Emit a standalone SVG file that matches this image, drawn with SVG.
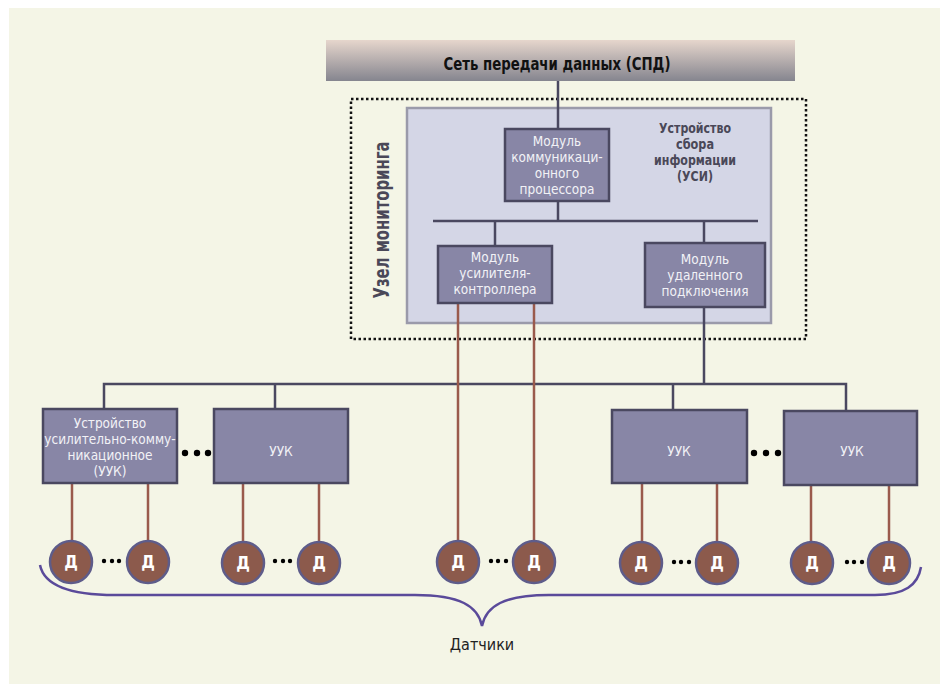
<svg xmlns="http://www.w3.org/2000/svg" width="943" height="687" viewBox="0 0 943 687">
<defs>
<linearGradient id="spdGrad" x1="0" y1="0" x2="0" y2="1">
<stop offset="0" stop-color="#e6d6cc"/>
<stop offset="1" stop-color="#85858f"/>
</linearGradient>
<style>
.t{font-family:"DejaVu Sans Condensed","DejaVu Sans",sans-serif;font-stretch:condensed;}
.box{fill:#8886a6;stroke:#4a4860;stroke-width:2.5;}
.wt{fill:#f2f2f6;font-size:13.5px;text-anchor:middle;}
.bd{fill:#4a4858;font-weight:bold;text-anchor:middle;}
.bus{fill:none;stroke:#4a4860;stroke-width:2.5;}
.br{fill:none;stroke:#9a5a4c;stroke-width:2.5;}
.sen{fill:#8c5a4c;stroke:#5e5c8a;stroke-width:2.5;}
.st{fill:#ffffff;font-size:17px;font-weight:bold;text-anchor:middle;}
.dot{fill:#000;}
</style>
</defs>
<rect width="943" height="687" fill="#ffffff"/>
<rect x="9" y="8" width="931" height="676" fill="#f4f5e6"/>

<g id="spd">
<rect x="326" y="40" width="469" height="41" fill="url(#spdGrad)"/>
<text class="t" x="557" y="70" font-size="18" font-weight="bold" fill="#111" text-anchor="middle" textLength="227" lengthAdjust="spacingAndGlyphs">Сеть передачи данных (СПД)</text>
</g>

<g id="monitoring-node">
<rect x="351" y="99" width="455" height="240" fill="none" stroke="#111" stroke-width="2.5" stroke-dasharray="2.5 2.5"/>
<text class="t bd" transform="translate(389,220) rotate(-90)" font-size="21" textLength="157" lengthAdjust="spacingAndGlyphs">Узел мониторинга</text>
</g>

<g id="usi">
<rect x="407" y="108" width="364" height="215" fill="#d4d6e6" stroke="#9a9aaa" stroke-width="2.5"/>
<text class="t bd" font-size="13.5"><tspan x="695" y="133" textLength="72" lengthAdjust="spacingAndGlyphs">Устройство</tspan><tspan x="695" y="149" textLength="38" lengthAdjust="spacingAndGlyphs">сбора</tspan><tspan x="695" y="165" textLength="82" lengthAdjust="spacingAndGlyphs">информации</tspan><tspan x="695" y="181" textLength="36" lengthAdjust="spacingAndGlyphs">(УСИ)</tspan></text>
</g>

<g id="connectors">
<line class="bus" x1="558" y1="81" x2="558" y2="129"/>
<line class="bus" x1="558" y1="201" x2="558" y2="221"/>
<line class="bus" x1="433" y1="221" x2="758" y2="221"/>
<line class="bus" x1="495" y1="221" x2="495" y2="246"/>
<line class="bus" x1="704" y1="221" x2="704" y2="243"/>
<polyline class="bus" points="104,409 104,384 846,384 846,411"/>
<line class="bus" x1="704" y1="307" x2="704" y2="384"/>
<line class="bus" x1="275" y1="384" x2="275" y2="409"/>
<line class="bus" x1="673" y1="384" x2="673" y2="410"/>
<line class="br" x1="72" y1="483" x2="72" y2="541"/>
<line class="br" x1="148" y1="483" x2="148" y2="541"/>
<line class="br" x1="243" y1="483" x2="243" y2="541"/>
<line class="br" x1="319" y1="483" x2="319" y2="541"/>
<line class="br" x1="458" y1="303" x2="458" y2="541"/>
<line class="br" x1="534" y1="303" x2="534" y2="541"/>
<line class="br" x1="642" y1="483" x2="642" y2="541"/>
<line class="br" x1="717" y1="483" x2="717" y2="541"/>
<line class="br" x1="811" y1="485" x2="811" y2="541"/>
<line class="br" x1="889" y1="485" x2="889" y2="541"/>
</g>

<g id="module-comm">
<rect class="box" x="505" y="129" width="104" height="72"/>
<text class="t wt"><tspan x="557" y="146">Модуль</tspan><tspan x="557" y="162">коммуникаци-</tspan><tspan x="557" y="178">онного</tspan><tspan x="557" y="194">процессора</tspan></text>
</g>

<g id="module-amp">
<rect class="box" x="438" y="246" width="114" height="57"/>
<text class="t wt"><tspan x="495" y="262">Модуль</tspan><tspan x="495" y="278">усилителя-</tspan><tspan x="495" y="294">контроллера</tspan></text>
</g>

<g id="module-remote">
<rect class="box" x="645" y="243" width="120" height="64"/>
<text class="t wt"><tspan x="705" y="264">Модуль</tspan><tspan x="705" y="280">удаленного</tspan><tspan x="705" y="296">подключения</tspan></text>
</g>

<g id="uuk1">
<rect class="box" x="43" y="409" width="134" height="74"/>
<text class="t wt"><tspan x="110" y="428">Устройство</tspan><tspan x="110" y="444">усилительно-комму-</tspan><tspan x="110" y="460">никационное</tspan><tspan x="110" y="476">(УУК)</tspan></text>
</g>
<g id="uuk2">
<rect class="box" x="214" y="409" width="134" height="74"/>
<text class="t wt" x="281" y="456">УУК</text>
</g>
<g id="uuk3">
<rect class="box" x="612" y="410" width="135" height="73"/>
<text class="t wt" x="679" y="456">УУК</text>
</g>
<g id="uuk4">
<rect class="box" x="784" y="411" width="133" height="74"/>
<text class="t wt" x="852" y="456">УУК</text>
</g>

<g id="ellipsis-uuk">
<circle class="dot" cx="185" cy="453" r="3.2"/><circle class="dot" cx="197" cy="453" r="3.2"/><circle class="dot" cx="208" cy="453" r="3.2"/>
<circle class="dot" cx="754" cy="453" r="3.2"/><circle class="dot" cx="766" cy="453" r="3.2"/><circle class="dot" cx="778" cy="453" r="3.2"/>
</g>

<g id="sensors">
<g id="s1"><circle class="sen" cx="71" cy="562" r="21"/><text class="t st" x="71" y="568">Д</text></g>
<g id="s2"><circle class="sen" cx="148" cy="562" r="21"/><text class="t st" x="148" y="568">Д</text></g>
<g id="s3"><circle class="sen" cx="243" cy="563" r="21"/><text class="t st" x="243" y="569">Д</text></g>
<g id="s4"><circle class="sen" cx="319" cy="563" r="21"/><text class="t st" x="319" y="569">Д</text></g>
<g id="s5"><circle class="sen" cx="458" cy="562" r="21"/><text class="t st" x="458" y="568">Д</text></g>
<g id="s6"><circle class="sen" cx="534" cy="562" r="21"/><text class="t st" x="534" y="568">Д</text></g>
<g id="s7"><circle class="sen" cx="641" cy="563" r="21"/><text class="t st" x="641" y="569">Д</text></g>
<g id="s8"><circle class="sen" cx="717" cy="563" r="21"/><text class="t st" x="717" y="569">Д</text></g>
<g id="s9"><circle class="sen" cx="812" cy="563" r="21"/><text class="t st" x="812" y="569">Д</text></g>
<g id="s10"><circle class="sen" cx="889" cy="563" r="21"/><text class="t st" x="889" y="569">Д</text></g>
</g>

<g id="ellipsis-sensors">
<circle class="dot" cx="104" cy="561" r="2.2"/><circle class="dot" cx="112" cy="561" r="2.2"/><circle class="dot" cx="119" cy="561" r="2.2"/>
<circle class="dot" cx="275" cy="561" r="2.2"/><circle class="dot" cx="283" cy="561" r="2.2"/><circle class="dot" cx="290" cy="561" r="2.2"/>
<circle class="dot" cx="491" cy="561" r="2.2"/><circle class="dot" cx="498" cy="561" r="2.2"/><circle class="dot" cx="506" cy="561" r="2.2"/>
<circle class="dot" cx="674" cy="562" r="2.2"/><circle class="dot" cx="681" cy="562" r="2.2"/><circle class="dot" cx="689" cy="562" r="2.2"/>
<circle class="dot" cx="847" cy="562" r="2.2"/><circle class="dot" cx="854" cy="562" r="2.2"/><circle class="dot" cx="862" cy="562" r="2.2"/>
</g>

<g id="brace">
<path d="M40,565 C44,585 70,595 115,595 L415,595 C460,595 478,606 482,626 C486,606 504,595 549,595 L875,595 C905,595 918,585 921,567" fill="none" stroke="#5a4a9a" stroke-width="2.5"/>
<text class="t" x="482" y="650" font-size="16" fill="#222" text-anchor="middle">Датчики</text>
</g>
</svg>
